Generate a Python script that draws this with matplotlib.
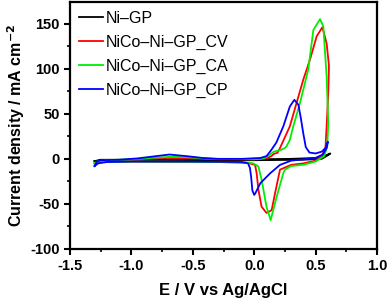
import matplotlib
matplotlib.use("Agg")
import matplotlib.pyplot as plt
from matplotlib.ticker import MultipleLocator

plt.rcParams['font.family'] = ['Liberation Sans', 'DejaVu Sans']

# Ni-GP (black)
e_ni = [-1.30, -1.25, -1.0, -0.5, 0.0, 0.3, 0.5, 0.57, 0.62,
        0.60, 0.55, 0.40, 0.0, -1.0, -1.25, -1.30]
i_ni = [-2.5, -1.0, -1.0, -0.5, -0.5, 0.0, 1.0, 3.0, 6.0,
        4.0, 0.0, -1.0, -1.5, -1.5, -2.0, -2.5]

# NiCo-Ni-GP_CV (red)
e_cv = [-1.30, -1.27, -1.2, -1.0, -0.7, -0.3, 0.0, 0.10, 0.14, 0.16, 0.19, 0.21,
        0.29, 0.345, 0.40, 0.454, 0.509, 0.555, 0.59, 0.609, 0.603, 0.59, 0.58,
        0.55, 0.50, 0.40, 0.30, 0.21, 0.17, 0.142, 0.10, 0.06, 0.034, 0.02,
        0.007, -0.05, -0.3, -1.0, -1.25, -1.30]
i_cv = [-5.0, -2.5, -1.5, -1.0, 1.0, -0.5, -0.5, 0.5, 3.0, 5.5, 6.7, 12.0,
        36.0, 62.0, 88.0, 110.0, 136.0, 146.0, 128.0, 103.0, 73.0, 36.0, 12.0,
        3.0, -2.0, -5.0, -6.7, -12.0, -38.0, -57.0, -60.0, -53.0, -34.0, -16.0,
        -6.7, -4.5, -3.5, -3.0, -3.5, -5.0]

# NiCo-Ni-GP_CA (green)
e_ca = [-1.30, -1.27, -1.2, -1.0, -0.85, -0.65, -0.45, -0.3, 0.0, 0.08, 0.12, 0.16,
        0.22, 0.25, 0.264, 0.29, 0.318, 0.373, 0.44, 0.482, 0.536, 0.563, 0.59,
        0.603, 0.595, 0.57, 0.50, 0.40, 0.30, 0.25, 0.237, 0.183, 0.134, 0.10,
        0.06, 0.034, -0.007, -0.1, -1.0, -1.25, -1.30]
i_ca = [-5.0, -2.5, -1.5, -0.5, 1.0, 2.5, 1.0, 0.0, -0.5, 0.5, 4.0, 8.0,
        10.0, 12.0, 14.0, 21.0, 36.0, 62.0, 99.0, 143.0, 155.0, 147.0, 91.0,
        40.0, 14.0, 3.0, -3.0, -6.5, -8.0, -12.0, -16.0, -42.0, -68.0, -53.0,
        -23.0, -8.5, -5.0, -3.5, -3.0, -3.5, -5.0]

# NiCo-Ni-GP_CP (blue)
e_cp = [-1.30, -1.28, -1.25, -1.1, -0.95, -0.8, -0.69, -0.55, -0.42, -0.3, -0.1,
        0.05, 0.10, 0.14, 0.18, 0.237, 0.29, 0.327, 0.36, 0.38, 0.40, 0.42, 0.45,
        0.50, 0.55, 0.58, 0.60, 0.59, 0.56, 0.50, 0.40, 0.30, 0.21, 0.13, 0.05,
        0.01, 0.0, -0.015, -0.025, -0.035, -0.05, -0.1, -0.5, -1.0, -1.2, -1.27,
        -1.30]
i_cp = [-8.0, -3.0, -1.5, -1.0, 0.5, 3.0, 4.8, 3.0, 1.0, 0.0, 0.0,
        1.0, 3.0, 10.0, 18.0, 36.0, 58.0, 65.5, 60.0, 45.0, 28.0, 13.0, 7.0,
        6.0, 8.0, 12.0, 19.0, 12.0, 5.0, 1.0, -0.5, -2.0, -6.7, -16.0, -27.0,
        -38.0, -40.0, -35.0, -20.0, -10.0, -5.0, -3.5, -3.0, -3.0, -3.5, -5.0,
        -8.0]

labels = ['Ni–GP', 'NiCo–Ni–GP_CV', 'NiCo–Ni–GP_CA', 'NiCo–Ni–GP_CP']
colors = ['#000000', '#ff0000', '#00ee00', '#0000ff']

fig = plt.figure(figsize=(3.90, 3.02), dpi=100)
ax = fig.add_axes([70/390, 1-249/302, 307/390, 247/302])

for e, i, lab, c in zip([e_ni, e_cv, e_ca, e_cp], [i_ni, i_cv, i_ca, i_cp], labels, colors):
    ax.plot(e, i, color=c, lw=1.3, label=lab)

ax.set_xlim(-1.5, 1.0)
ax.set_ylim(-100, 174)
ax.xaxis.set_minor_locator(MultipleLocator(0.25))
ax.yaxis.set_minor_locator(MultipleLocator(25))
ax.set_xticks([-1.5, -1.0, -0.5, 0.0, 0.5, 1.0])
ax.set_xticklabels(['-1.5', '-1.0', '-0.5', '0.0', '0.5', '1.0'])
ax.set_yticks([-100, -50, 0, 50, 100, 150])
ax.set_yticklabels(['-100', '-50', '0', '50', '100', '150'])
ax.tick_params(which='major', direction='out', length=4, width=1.5, labelsize=10.5)
ax.tick_params(which='minor', direction='out', length=2.5, width=1.2)
for lab in ax.get_xticklabels() + ax.get_yticklabels():
    lab.set_fontweight('bold')
for sp in ax.spines.values():
    sp.set_linewidth(1.6)

ax.set_xlabel('E / V vs Ag/AgCl', fontsize=12, fontweight='bold', labelpad=7)
ax.set_ylabel('Current density / mA cm$^{\\mathbf{-2}}$', fontsize=11.5, fontweight='bold', labelpad=2)

ax.legend(loc='upper left', frameon=False, fontsize=11.5, handlelength=1.5,
          handletextpad=0.2, labelspacing=0.55, borderaxespad=0.15,
          bbox_to_anchor=(0.0, 1.0))

fig.savefig('out.png', dpi=100)
